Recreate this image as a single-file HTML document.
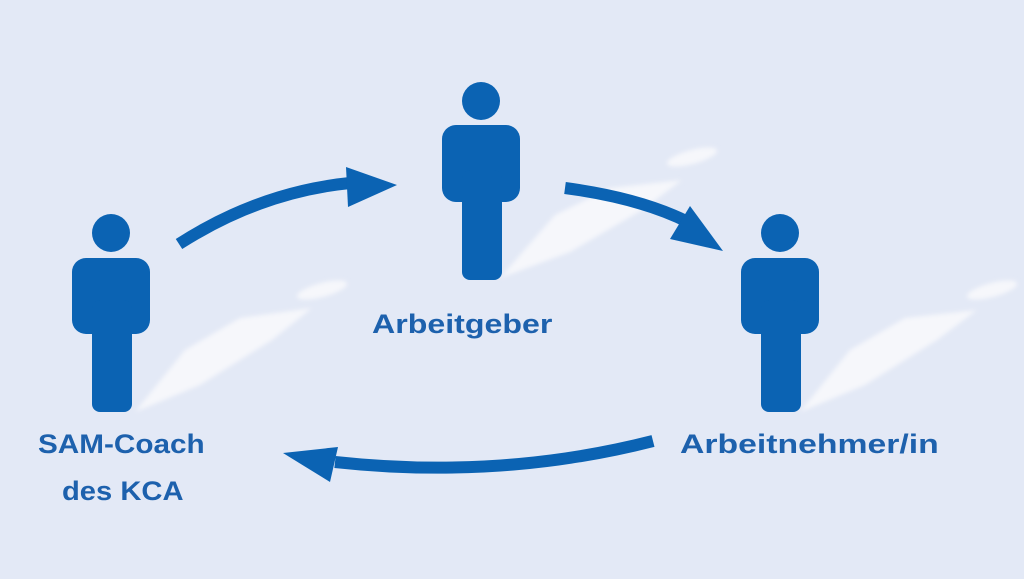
<!DOCTYPE html>
<html><head><style>
html,body{margin:0;padding:0;}
body{width:1024px;height:579px;background:#e3e9f6;overflow:hidden;position:relative;font-family:"Liberation Sans",sans-serif;}
.t{position:absolute;color:#1d61ad;font-weight:bold;font-size:27px;white-space:nowrap;transform-origin:0 0;}
</style></head><body>
<svg width="1024" height="579" style="position:absolute;left:0;top:0">
<defs><filter id="b"><feGaussianBlur stdDeviation="2.5"/></filter></defs>
<g fill="#f6f7fb" filter="url(#b)">
<path d="M135 412 L185 350 L240 318 L312 308 L272 340 L200 385 Z"/>
<ellipse cx="322" cy="290" rx="26" ry="7" transform="rotate(-15 322 290)"/>
<path d="M500 278 L555 215 L610 188 L682 180 L642 210 L570 252 Z"/>
<ellipse cx="692" cy="157" rx="26" ry="7" transform="rotate(-15 692 157)"/>
<path d="M800 412 L850 350 L905 318 L977 310 L937 340 L865 385 Z"/>
<ellipse cx="992" cy="290" rx="26" ry="7" transform="rotate(-15 992 290)"/>
</g>
<g fill="#0b63b3">
<circle cx="111" cy="233" r="19"/>
<rect x="72" y="258" width="78" height="76" rx="14"/>
<rect x="92" y="300" width="40" height="112" rx="8"/>
<circle cx="481" cy="101" r="19"/>
<rect x="442" y="125" width="78" height="77" rx="14"/>
<rect x="462" y="170" width="40" height="110" rx="8"/>
<circle cx="780" cy="233" r="19"/>
<rect x="741" y="258" width="78" height="76" rx="14"/>
<rect x="761" y="300" width="40" height="112" rx="8"/>
</g>
<g fill="none" stroke="#0b63b3" stroke-width="12">
<path d="M179 244 Q260 192 350 183"/>
<path d="M565 188 Q640 198 688 222"/>
<path d="M653 441 Q500 480 335 462"/>
</g>
<g fill="#0b63b3">
<polygon points="397,185 346,167 348,207"/>
<polygon points="723,251 690,206 670,239"/>
<polygon points="283,453 338,447 330,482"/>
</g>
</svg>
<div class="t" style="left:372px;top:309px;transform:scaleX(1.19)">Arbeitgeber</div>
<div class="t" style="left:680px;top:429px;transform:scaleX(1.25)">Arbeitnehmer/in</div>
<div class="t" style="left:38px;top:429px;transform:scaleX(1.1)">SAM-Coach</div>
<div class="t" style="left:62px;top:476px;transform:scaleX(1.08)">des KCA</div>
</body></html>
